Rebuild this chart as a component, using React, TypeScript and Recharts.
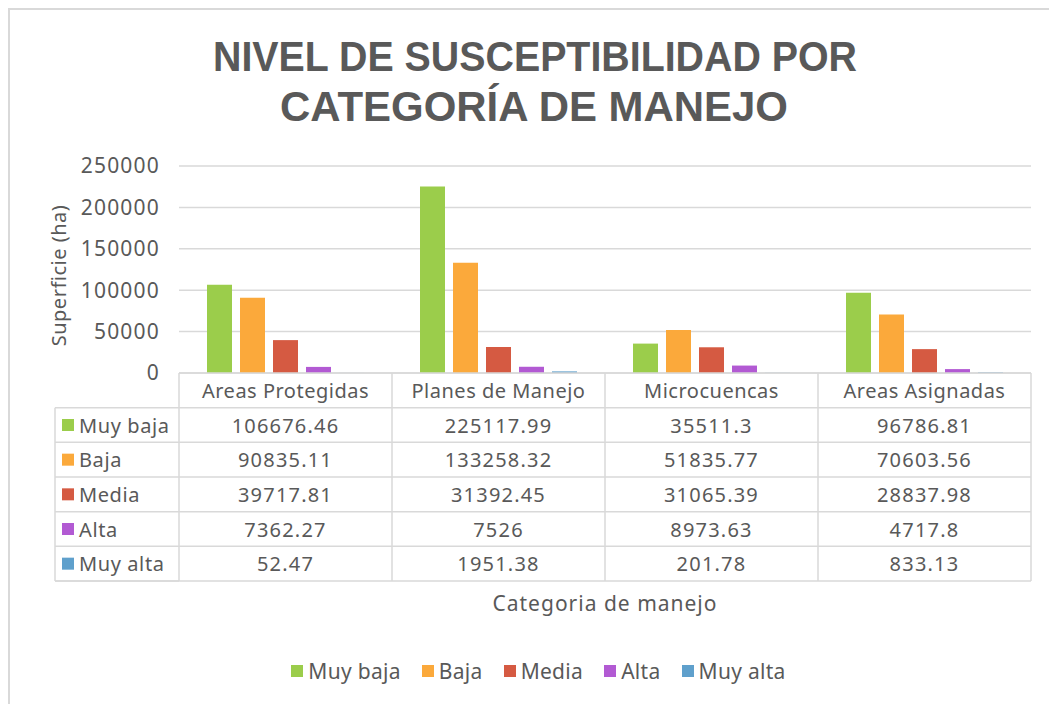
import { BarChart, Bar, XAxis, YAxis, CartesianGrid, Legend } from 'recharts';

const categories = ['Areas Protegidas', 'Planes de Manejo', 'Microcuencas', 'Areas Asignadas'];
const muyBaja = [106676.46, 225117.99, 35511.3, 96786.81];
const baja = [90835.11, 133258.32, 51835.77, 70603.56];
const media = [39717.81, 31392.45, 31065.39, 28837.98];
const alta = [7362.27, 7526, 8973.63, 4717.8];
const muyAlta = [52.47, 1951.38, 201.78, 833.13];
const seriesNames = ['Muy baja', 'Baja', 'Media', 'Alta', 'Muy alta'];
const yTicks = [0, 50000, 100000, 150000, 200000, 250000];

const colors = ['#9bcd4b', '#fba93b', '#d55a42', '#b25ad3', '#5fa0cc'];
const keys = ['muyBaja', 'baja', 'media', 'alta', 'muyAlta'];
const seriesValues = [muyBaja, baja, media, alta, muyAlta];

const data = categories.map((name, i) => ({
  name,
  muyBaja: muyBaja[i],
  baja: baja[i],
  media: media[i],
  alta: alta[i],
  muyAlta: muyAlta[i],
}));

const W = 1047;
const H = 686;
const margin = { top: 156, right: 26, bottom: 0, left: 0 };
const yAxisW = 169;
const bandW = (W - margin.left - margin.right - yAxisW) / categories.length;
const rowH = 208 / 6;
const txt = '#595959';
const line = '#d9d9d9';
const font = '"Noto Sans", sans-serif';

const TableTick = (props: any) => {
  const { x, y, payload } = props;
  const i = categories.indexOf(payload.value);
  const left = x - bandW / 2;
  const right = x + bandW / 2;
  const bottom = y + rowH * 6;
  const leftCol = left - 124;
  return (
    <g fontFamily={font} fontSize={20} fill={txt}>
      <line x1={right} x2={right} y1={y} y2={bottom} stroke={line} strokeWidth={1.5} />
      {i === 0 && (
        <g>
          <line x1={left} x2={left} y1={y} y2={bottom} stroke={line} strokeWidth={1.5} />
          <line x1={leftCol} x2={leftCol} y1={y + rowH} y2={bottom} stroke={line} strokeWidth={1.5} />
          <line x1={leftCol} x2={left} y1={y + rowH} y2={y + rowH} stroke={line} strokeWidth={1.5} />
          <line x1={leftCol} x2={left} y1={bottom} y2={bottom} stroke={line} strokeWidth={1.5} />
          {seriesNames.map((s, r) => (
            <g key={s}>
              <line x1={leftCol} x2={left} y1={y + rowH * (r + 2)} y2={y + rowH * (r + 2)} stroke={line} strokeWidth={1.5} />
              <rect x={leftCol + 7} y={y + rowH * (r + 1.5) - 6} width={12} height={12} fill={colors[r]} />
              <text x={leftCol + 24} y={y + rowH * (r + 1.5)} dominantBaseline="central" fill={txt} letterSpacing={0.6}>
                {s}
              </text>
            </g>
          ))}
        </g>
      )}
      <text x={x} y={y + rowH * 0.5} textAnchor="middle" dominantBaseline="central" fill={txt} letterSpacing={0.5}>
        {payload.value}
      </text>
      {seriesValues.map((vals, r) => (
        <g key={r}>
          <line x1={left} x2={right} y1={y + rowH * (r + 1)} y2={y + rowH * (r + 1)} stroke={line} strokeWidth={1.5} />
          <text x={x} y={y + rowH * (r + 1.5)} textAnchor="middle" dominantBaseline="central" fill={txt} letterSpacing={1.2}>
            {String(vals[i])}
          </text>
        </g>
      ))}
      <line x1={left} x2={right} y1={bottom} y2={bottom} stroke={line} strokeWidth={1.5} />
    </g>
  );
};

const YTitle = (props: any) => {
  const vb = props.viewBox || { x: 0, y: margin.top, height: 207 };
  const cx = vb.x + 56;
  const cy = vb.y + vb.height / 2 + 6;
  return (
    <text x={cx} y={cy} transform={`rotate(-90, ${cx}, ${cy})`} textAnchor="middle" fontFamily={font} fontSize={20} fill={txt} letterSpacing={0.5}>
      Superficie (ha)
    </text>
  );
};

const XTitle = (props: any) => {
  const vb = props.viewBox || { x: 169, y: 363, width: 852 };
  return (
    <text x={vb.x + vb.width / 2} y={vb.y + 230} textAnchor="middle" dominantBaseline="central" fontFamily={font} fontSize={21} fill={txt} letterSpacing={1}>
      Categoria de manejo
    </text>
  );
};

const LegendContent = () => (
  <div style={{ display: 'flex', justifyContent: 'center', alignItems: 'center', height: 50, paddingLeft: 36, fontFamily: font, fontSize: 21, color: txt, letterSpacing: 0.3 }}>
    {seriesNames.map((s, i) => (
      <div key={s} style={{ display: 'flex', alignItems: 'center', marginRight: i < seriesNames.length - 1 ? 21 : 0 }}>
        <span style={{ width: 12, height: 12, background: colors[i], display: 'inline-block', marginRight: 5 }} />
        <span>{s}</span>
      </div>
    ))}
  </div>
);

export default function App() {
  return (
    <div
      style={{
        position: 'relative',
        width: W,
        height: H + 8,
        borderTop: `2px solid ${line}`,
        borderLeft: `2px solid ${line}`,
        background: '#fff',
      }}
    >
      <svg width={W} height={140} style={{ position: 'absolute', left: 0, top: 0 }}>
        <text x={525} y={61} textAnchor="middle" fontFamily='"Liberation Sans", sans-serif' fontWeight={700} fontSize={43} fill={txt} textLength={644} lengthAdjust="spacingAndGlyphs">
          NIVEL DE SUSCEPTIBILIDAD POR
        </text>
        <text x={524} y={111} textAnchor="middle" fontFamily='"Liberation Sans", sans-serif' fontWeight={700} fontSize={43} fill={txt} textLength={508} lengthAdjust="spacingAndGlyphs">
          CATEGORÍA DE MANEJO
        </text>
      </svg>
      <BarChart width={W} height={H} data={data} margin={margin} barCategoryGap={28} barGap={8}>
        <CartesianGrid vertical={false} stroke={line} strokeWidth={1.5} />
        <XAxis
          dataKey="name"
          interval={0}
          height={H - 50 - 363}
          tickSize={0}
          tickMargin={0}
          tickLine={false}
          axisLine={{ stroke: line, strokeWidth: 1.5 }}
          tick={<TableTick />}
          label={<XTitle />}
        />
        <YAxis
          width={yAxisW}
          domain={[0, 250000]}
          ticks={yTicks}
          axisLine={false}
          tickLine={false}
          tickSize={0}
          tickMargin={19}
          tick={{ fontFamily: font, fontSize: 21, fill: txt, letterSpacing: 1.2 }}
          label={<YTitle />}
        />
        <Legend verticalAlign="bottom" height={50} content={<LegendContent />} />
        {keys.map((k, i) => (
          <Bar key={k} dataKey={k} name={seriesNames[i]} fill={colors[i]} isAnimationActive={false} />
        ))}
      </BarChart>
    </div>
  );
}
